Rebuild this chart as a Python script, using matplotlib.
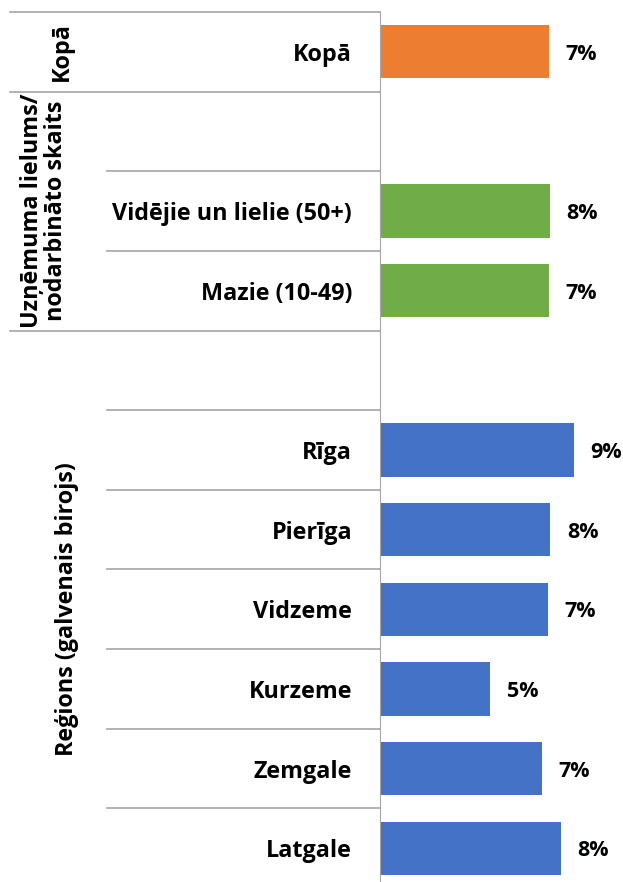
import matplotlib
matplotlib.use("Agg")
import matplotlib.pyplot as plt
from matplotlib.transforms import blended_transform_factory

plt.rcParams['font.family'] = ['Open Sans', 'DejaVu Sans']

# categories top to bottom, None = empty spacer row
categories = ["Kopā", None, "Vidējie un lielie (50+)", "Mazie (10-49)", None,
              "Rīga", "Pierīga", "Vidzeme", "Kurzeme", "Zemgale", "Latgale"]
shares = [0.0748, None, 0.0752, 0.0747, None,
          0.0858, 0.0753, 0.0743, 0.0487, 0.0717, 0.0801]
bar_colors = ["#ED7D31", None, "#70AD47", "#70AD47", None,
              "#4472C4", "#4472C4", "#4472C4", "#4472C4", "#4472C4", "#4472C4"]

# group labels: (text, first row, last row)
groups = [("Kopā", 0, 0),
          ("Uzņēmuma lielums/\nnodarbināto skaits", 1, 3),
          ("Reģions (galvenais birojs)", 4, 10)]

FS = 16.8
FS_VAL = 15.5
W, H = 623, 882
fig = plt.figure(figsize=(W / 100, H / 100), dpi=100)
left, right, top, bottom = 380, 623, 12, 888
ax = fig.add_axes([left / W, 1 - bottom / H, (right - left) / W, (bottom - top) / H])

rows = [i for i, c in enumerate(categories) if c is not None]
vals = [shares[i] for i in rows]
cols = [bar_colors[i] for i in rows]
bars = ax.barh(rows, vals, height=0.67, color=cols)

for r, v in zip(rows, vals):
    ax.annotate(f"{v:.0%}", (v, r), xytext=(12, 0), textcoords="offset points",
                ha="left", va="center_baseline", fontsize=FS_VAL, fontweight="bold")

ax.set_xlim(0, 0.1075)
ax.set_ylim(len(categories) - 0.5, -0.5)
ax.set_xticks([])
ax.set_yticks(rows)
ax.set_yticklabels([categories[i] for i in rows], fontsize=FS, fontweight="bold")
ax.tick_params(axis="y", length=0, pad=20)
for s in ["top", "right", "bottom"]:
    ax.spines[s].set_visible(False)
ax.spines["left"].set_color("#A6A6A6")

# separator lines left of the axis (x in axes coords, y in data)
tr = blended_transform_factory(ax.transAxes, ax.transData)
x_outer = (10 - left) / (right - left)
x_inner = (107 - left) / (right - left)
group_edges = set()
for _, a, b in groups:
    group_edges.add(a - 0.5)
    group_edges.add(b + 0.5)
for k in range(len(categories) + 1):
    y = k - 0.5
    x0 = x_outer if y in group_edges else x_inner
    ax.plot([x0, 0], [y, y], color="#A6A6A6", lw=1.2, transform=tr, clip_on=False)

group_x = [(62 - left) / (right - left), (44 - left) / (right - left), (67 - left) / (right - left)]
for (txt, a, b), gx in zip(groups, group_x):
    ax.text(gx, (a + b) / 2, txt, rotation=90, ha="center", va="center",
            fontsize=FS, fontweight="bold", transform=tr, linespacing=1.0)

fig.savefig("out.png", dpi=100)
